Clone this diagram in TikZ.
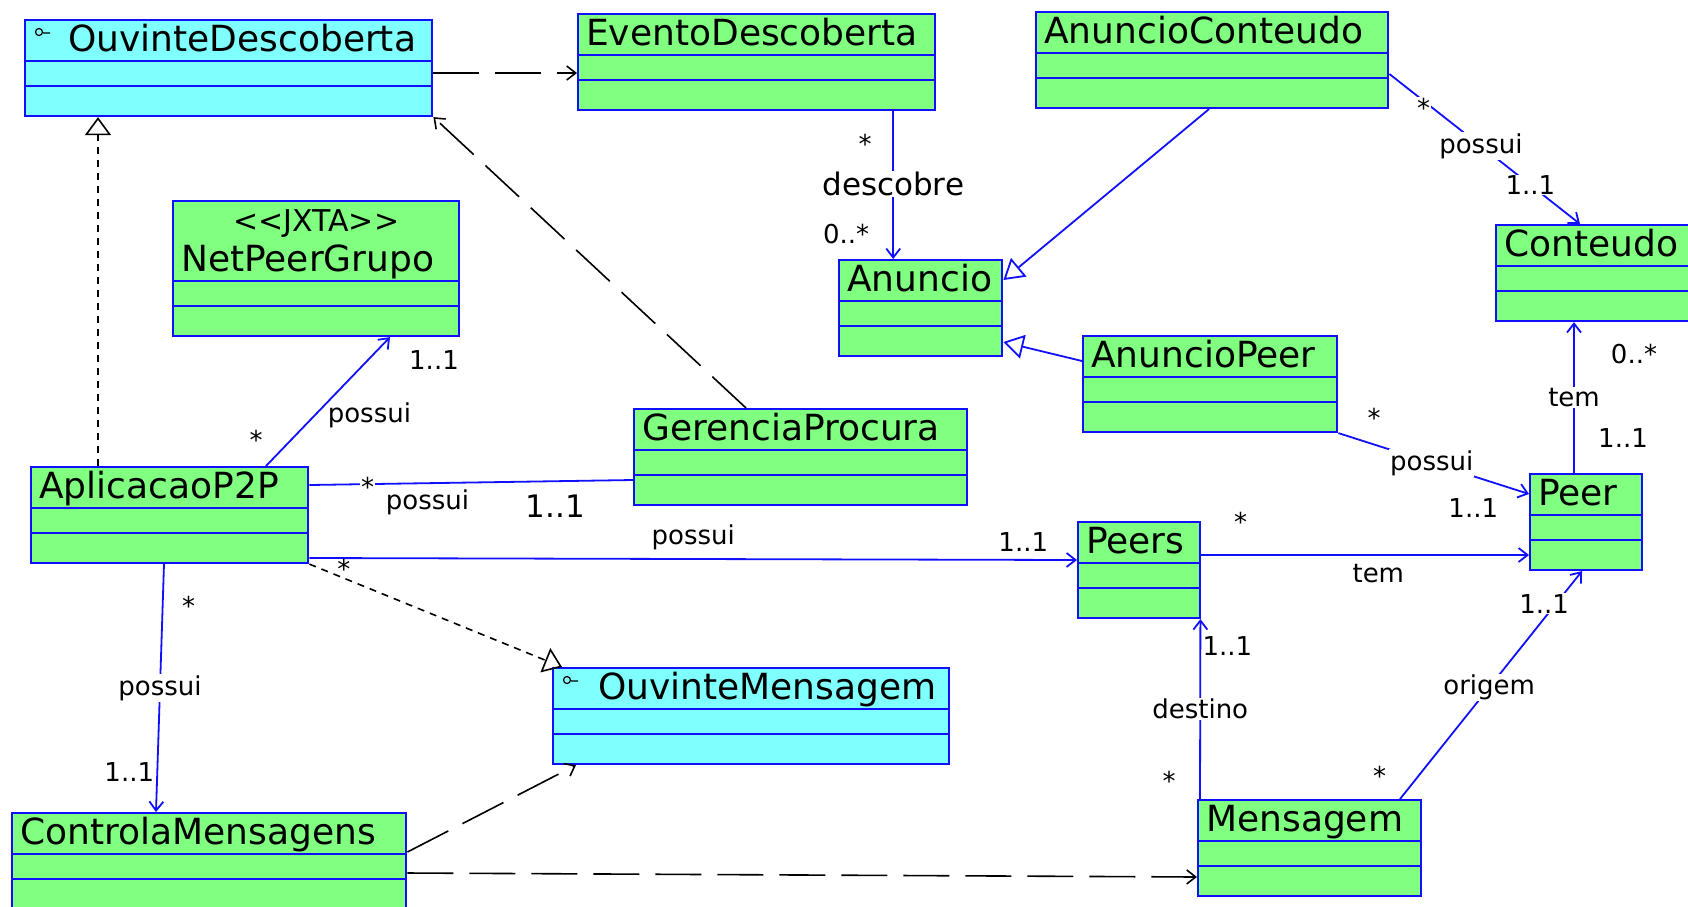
\documentclass[tikz,border=0pt]{standalone}
\usepackage{fontspec}
\setmainfont{DejaVu Sans}
\usetikzlibrary{shapes.multipart,arrows.meta}
\definecolor{umlblue}{RGB}{16,16,255}
\definecolor{umlgreen}{RGB}{128,255,128}
\definecolor{umlcyan}{RGB}{128,255,255}
\newcommand{\clshead}{\rule[-8pt]{0pt}{38.5pt}}
\newcommand{\clsbody}{\nodepart{two}\rule{0pt}{22.5pt}\nodepart{three}\rule{0pt}{27.5pt}}

\begin{document}
\begin{tikzpicture}[x=1pt, y=-1pt,
  cls/.style={rectangle split, rectangle split parts=3, draw=umlblue, fill=umlgreen, line width=2.4pt, anchor=north west, inner xsep=8pt, inner ysep=0pt, align=left, font=\fontsize{36}{40}\selectfont},
  iface/.style={cls, fill=umlcyan},
  assoc/.style={umlblue, line width=1.8pt, -{Straight Barb[length=9pt,width=14pt]}},
  link/.style={umlblue, line width=1.8pt},
  gen/.style={umlblue, line width=1.8pt, -{Triangle[open,length=20pt,width=24pt]}},
  real/.style={black, line width=1.6pt, dash pattern=on 7pt off 6pt, -{Triangle[open,length=18pt,width=26pt]}},
  dep/.style={black, line width=1.6pt, dash pattern=on 46pt off 16pt, -{Straight Barb[length=9pt,width=14pt]}},
  lbl/.style={font=\fontsize{26}{30}\selectfont, text=black, fill=white, inner sep=1pt},
  mult/.style={font=\fontsize{26}{30}\selectfont, text=black, inner sep=0pt}
]
  \useasboundingbox (0,0) rectangle (1688,906);

  \node[iface, text width=391pt] (od) at (24,19) {\clshead\hspace*{35pt}OuvinteDescoberta\clsbody};
  \node[cls, text width=341pt] (ed) at (577,13) {\clshead EventoDescoberta\clsbody};
  \node[cls, text width=336pt] (ac) at (1035,11) {\clshead AnuncioConteudo\clsbody};
  \node[cls, text width=184pt] (ct) at (1495,224) {\clshead Conteudo\clsbody};
  \node[cls, text width=147pt] (an) at (838,259) {\clshead Anuncio\clsbody};
  \node[cls, text width=238pt] (ap) at (1082,335) {\clshead AnuncioPeer\clsbody};
  \node[cls, text width=270pt] (npg) at (172,200) {\centering\fontsize{30}{39}\selectfont\rule{0pt}{29.5pt}<{}<JXTA>{}>\\\fontsize{36}{39}\selectfont\rule[-8pt]{0pt}{0pt}NetPeerGrupo\clsbody};
  \node[cls, text width=317pt] (gp) at (633,408) {\clshead GerenciaProcura\clsbody};
  \node[cls, text width=261pt] (p2p) at (30,466) {\clshead AplicacaoP2P\clsbody};
  \node[cls, text width=106pt] (prs) at (1077,521) {\clshead Peers\clsbody};
  \node[cls, text width=96pt] (peer) at (1529,473) {\clshead Peer\clsbody};
  \node[iface, text width=380pt] (om) at (552,667) {\clshead\hspace*{37pt}OuvinteMensagem\clsbody};
  \node[cls, text width=378pt] (cm) at (11,812) {\clshead ControlaMensagens\clsbody};
  \node[cls, text width=207pt] (msg) at (1197,799) {\clshead Mensagem\clsbody};

  \foreach \n in {od,om}
    \draw[line width=1.2pt] ([xshift=15pt,yshift=-13pt]\n.north west) circle (3.5pt) ([xshift=19pt,yshift=-14pt]\n.north west) -- ++(7,0);

  \draw[dep] ([yshift=-54pt]od.north east) -- ([yshift=-60pt]ed.north west);
  \draw[real] ([xshift=68pt]p2p.north west) -- ([xshift=74pt]od.south west);
  \draw[dep] ([xshift=113pt]gp.north west) -- (od.south east);

  \draw[assoc] ([xshift=136.5pt]ed.south) -- node[mult, pos=0.22, xshift=-28pt] (m1) {*} node[lbl, pos=0.49, font=\fontsize{31}{34}\selectfont] (l1) {descobre} node[mult, pos=0.83, xshift=-47pt] (m2) {0..*} ([xshift=-27.5pt]an.north);
  \draw[gen] ([xshift=174pt]ac.south west) -- ([yshift=-21pt]an.north east);
  \draw[gen] ([yshift=-26pt]ap.north west) -- ([yshift=-83pt]an.north east);
  \draw[assoc] ([yshift=-63pt]ac.north east) -- node[lbl, pos=0.2, xshift=-4pt, yshift=-4pt] (m3) {*} node[lbl, pos=0.48] (l2) {possui} node[lbl, pos=0.74] (m4) {1..1} ([xshift=85pt]ct.north west);
  \draw[assoc] ([xshift=45pt]peer.north west) -- node[mult, pos=0.23, xshift=49pt] (m5) {1..1} node[lbl, pos=0.5] (l3) {tem} node[mult, pos=0.79, xshift=60pt] (m6) {0..*} ([xshift=79pt]ct.south west);
  \draw[assoc] (ap.south east) -- node[mult, pos=0.14, xshift=9pt, yshift=24pt] (m7) {*} node[lbl, pos=0.49] (l4) {possui} node[mult, pos=0.76, xshift=-10pt, yshift=-29pt] (m8) {1..1} ([yshift=-21pt]peer.north west);

  \draw[assoc] ([xshift=236pt]p2p.north west) -- node[mult, pos=0.09, xshift=-21pt, yshift=15pt] (m9) {*} node[mult, pos=0.6, xshift=29pt, yshift=-27pt] (l5) {possui} node[mult, pos=1, xshift=44pt, yshift=-23pt] (m10) {1..1} ([xshift=218pt]npg.south west);
  \draw[link] ([yshift=-19pt]p2p.north east) -- node[lbl, pos=0.18, yshift=-3pt] (m11) {*} node[mult, pos=0.365, yshift=-19pt] (l6) {possui} node[mult, pos=0.76, yshift=-25pt, font=\fontsize{31}{34}\selectfont] (m12) {1..1} ([yshift=-72pt]gp.north west);
  \draw[assoc] ([yshift=-92pt]p2p.north east) -- node[mult, pos=0.045, yshift=-11pt] (m13) {*} node[mult, pos=0.5, yshift=22pt] (l7) {possui} node[mult, pos=0.93, yshift=18pt] (m14) {1..1} ([yshift=-39pt]prs.north west);
  \draw[real] (p2p.south east) -- ([xshift=10pt]om.north west);
  \draw[assoc] ([xshift=134pt]p2p.south west) -- node[mult, pos=0.17, xshift=26pt] (m15) {*} node[lbl, pos=0.5] (l8) {possui} node[mult, pos=0.84, xshift=-28pt] (m16) {1..1} ([xshift=145pt]cm.north west);

  \draw[dep] ([yshift=-40pt]cm.north east) -- ([xshift=24pt]om.south west);
  \draw[dep] ([yshift=-61pt]cm.north east) -- ([yshift=-78pt]msg.north west);

  \draw[assoc] ([yshift=-34pt]prs.north east) -- node[mult, pos=0.12, yshift=33pt] (m17) {*} node[mult, pos=0.54, yshift=-19pt] (l9) {tem} ([yshift=-82pt]peer.north west);
  \draw[assoc] ([xshift=3pt]msg.north west) -- node[mult, pos=0.1, xshift=-31pt] (m18) {*} node[lbl, pos=0.5] (l10) {destino} node[mult, pos=0.85, xshift=27pt] (m19) {1..1} ([xshift=-1pt]prs.south east);
  \draw[assoc] ([xshift=203pt]msg.north west) -- node[mult, pos=0.02, xshift=-24pt, yshift=19pt] (m20) {*} node[lbl, pos=0.49] (l11) {origem} node[lbl, pos=0.83, xshift=-7pt, yshift=6pt] (m21) {1..1} ([xshift=53pt]peer.south west);
\end{tikzpicture}
\end{document}
